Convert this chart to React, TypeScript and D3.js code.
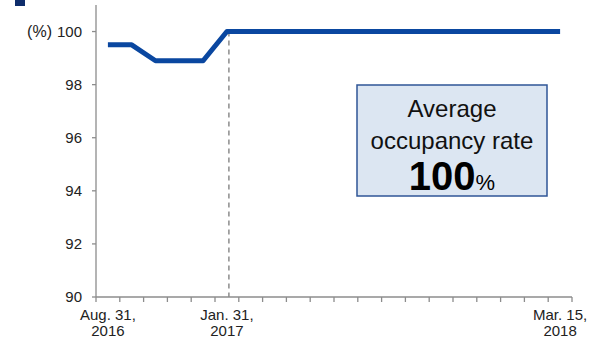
import React from "react";
import * as d3 from "d3";

const categories = [
  "Aug. 31, 2016", "Sep. 30, 2016", "Oct. 31, 2016", "Nov. 30, 2016", "Dec. 31, 2016",
  "Jan. 31, 2017", "Feb. 28, 2017", "Mar. 31, 2017", "Apr. 30, 2017", "May 31, 2017",
  "Jun. 30, 2017", "Jul. 31, 2017", "Aug. 31, 2017", "Sep. 30, 2017", "Oct. 31, 2017",
  "Nov. 30, 2017", "Dec. 31, 2017", "Jan. 31, 2018", "Feb. 28, 2018", "Mar. 15, 2018",
];
const occupancy = [
  99.5, 99.5, 98.9, 98.9, 98.9, 100, 100, 100, 100, 100,
  100, 100, 100, 100, 100, 100, 100, 100, 100, 100,
];
const labeledCategories: { key: string; lines: string[] }[] = [
  { key: "Aug. 31, 2016", lines: ["Aug. 31,", "2016"] },
  { key: "Jan. 31, 2017", lines: ["Jan. 31,", "2017"] },
  { key: "Mar. 15, 2018", lines: ["Mar. 15,", "2018"] },
];
const yTicks = [90, 92, 94, 96, 98, 100];
const yUnit = "(%)";
const markerCategory = "Jan. 31, 2017";
const boxLines = ["Average", "occupancy rate"];
const boxValue = "100";

const W = 604;
const H = 341;
const left = 96;
const right = 572;
const top = 5;
const bottom = 297;
const font = "'Liberation Sans', Arial, sans-serif";

export default function App() {
  const x = d3.scaleBand<string>().domain(categories).range([left, right]).padding(0);
  const y = d3.scaleLinear().domain([90, 101]).range([bottom, top]);
  const cx = (c: string) => (x(c) as number) + x.bandwidth() / 2;
  const line = d3
    .line<number>()
    .x((_, i) => cx(categories[i]))
    .y((d) => y(d));
  const boundaries = categories.map((c) => x(c) as number).concat([right]);
  const mx = cx(markerCategory) + 2;

  return (
    <svg
      width={W}
      height={H}
      style={{ position: "absolute", left: 0, top: 0, fontFamily: font }}
    >
      <rect x={15} y={0} width={10} height={6} fill="#0e2d6b" />
      {/* y axis */}
      <line x1={left} x2={left} y1={top} y2={bottom} stroke="#8c8c8c" strokeWidth={1.3} />
      {yTicks.map((t) => (
        <g key={t}>
          <line x1={left - 4} x2={left} y1={y(t)} y2={y(t)} stroke="#8c8c8c" strokeWidth={1.3} />
          <text x={82} y={y(t)} dy="0.35em" textAnchor="end" fontSize={15} fill="#222">
            {t}
          </text>
        </g>
      ))}
      <text x={52} y={y(100)} dy="0.35em" textAnchor="end" fontSize={16} fill="#222">
        {yUnit}
      </text>
      {/* x axis */}
      <line x1={left} x2={right} y1={bottom} y2={bottom} stroke="#8c8c8c" strokeWidth={1.3} />
      {boundaries.map((b, i) => (
        <line key={i} x1={b} x2={b} y1={bottom} y2={bottom + 5} stroke="#8c8c8c" strokeWidth={1.3} />
      ))}
      {labeledCategories.map((l) => (
        <text key={l.key} textAnchor="middle" fontSize={15} fill="#222">
          {l.lines.map((s, j) => (
            <tspan key={j} x={cx(l.key)} y={320 + j * 16}>
              {s}
            </tspan>
          ))}
        </text>
      ))}
      {/* marker */}
      <line
        x1={mx}
        x2={mx}
        y1={y(100)}
        y2={bottom}
        stroke="#8c8c8c"
        strokeWidth={1.5}
        strokeDasharray="5,4"
      />
      {/* series */}
      <path
        d={line(occupancy) || ""}
        fill="none"
        stroke="#0a47a0"
        strokeWidth={5}
        strokeLinejoin="round"
      />
      {/* box */}
      <rect x={357} y={85} width={190} height={111} fill="#dce6f2" stroke="#2f5597" strokeWidth={1.5} />
      {boxLines.map((s, i) => (
        <text key={s} x={452} y={117 + i * 32} textAnchor="middle" fontSize={24} fill="#111">
          {s}
        </text>
      ))}
      <text x={452} y={190} textAnchor="middle" fill="#000">
        <tspan fontSize={40} fontWeight="bold">{boxValue}</tspan>
        <tspan fontSize={22}>%</tspan>
      </text>
    </svg>
  );
}
